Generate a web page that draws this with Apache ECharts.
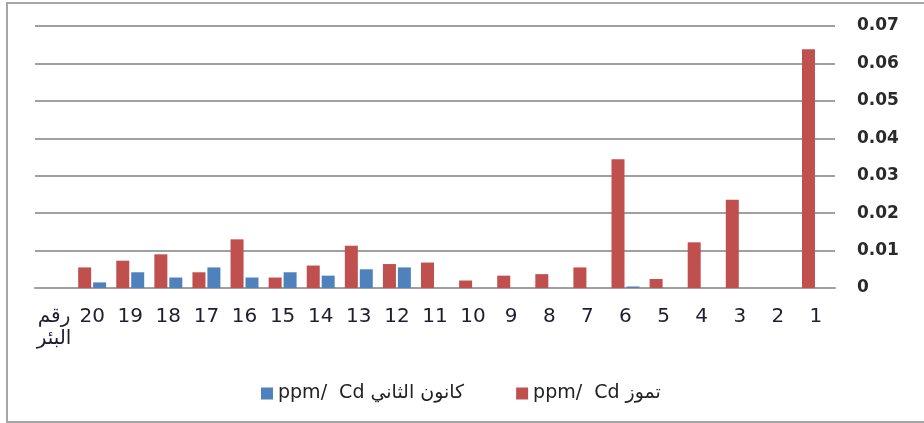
<!DOCTYPE html>
<html>
<head>
<meta charset="utf-8">
<script src="https://cdn.jsdelivr.net/npm/echarts@6/dist/echarts.min.js"></script>
<style>
html,body{margin:0;padding:0;background:#fff;overflow:hidden;width:924px;height:423px;}
#frame{position:absolute;left:6px;top:2px;width:960px;height:417px;border:2px solid #a6a6a6;}
#chart{position:absolute;left:0;top:0;width:924px;height:423px;}
</style>
</head>
<body>
<div id="frame"></div>
<div id="chart"></div>
<script>
const categories = ["رقم\nالبئر","20","19","18","17","16","15","14","13","12","11","10","9","8","7","6","5","4","3","2","1"];
const julyName = "ppm/  Cd تموز";
const janName = "ppm/  Cd كانون الثاني";
const julyValues = [null,0.0055,0.0073,0.009,0.0042,0.013,0.0028,0.006,0.0113,0.0064,0.0068,0.002,0.0033,0.0037,0.0055,0.0344,0.0024,0.0122,0.0236,null,0.0638];
const janValues = [null,0.0015,0.0042,0.0028,0.0055,0.0028,0.0042,0.0033,0.005,0.0055,null,null,null,null,null,0.0004,null,null,null,null,null];
const yTicks = [0,0.01,0.02,0.03,0.04,0.05,0.06,0.07];

const chart = echarts.init(document.getElementById('chart'));
chart.setOption({
  animation:false,
  backgroundColor:'transparent',
  grid:{left:35,right:89,top:26,bottom:135},
  legend:{
    data:[janName, julyName],
    left:256, top:379,
    icon:'rect', itemWidth:12, itemHeight:12, itemGap:52,
    textStyle:{fontFamily:'DejaVu Sans',fontSize:19,color:'#222'}
  },
  xAxis:{
    type:'category',
    data:categories,
    axisLine:{lineStyle:{color:'#a0a0a0',width:2}},
    axisTick:{show:false},
    axisLabel:{interval:0,fontFamily:'DejaVu Sans',fontSize:20,color:'#1e1e30',margin:18,lineHeight:22}
  },
  yAxis:{
    type:'value',
    position:'right',
    min:0,max:0.07,interval:0.01,
    axisLine:{show:false},
    axisTick:{show:false},
    splitLine:{lineStyle:{color:'#a0a0a0',width:2}},
    axisLabel:{margin:22,fontFamily:'DejaVu Sans',fontSize:17,fontWeight:'bold',color:'#2a2a2a',
      formatter:function(v){return yTicks.indexOf(Math.round(v*100)/100)>=0 ? String(Math.round(v*100)/100) : '';}}
  },
  series:[
    {name:julyName,type:'bar',data:julyValues,barWidth:13,barGap:'15%',itemStyle:{color:'#c0504d'}},
    {name:janName,type:'bar',data:janValues,barWidth:13,barGap:'15%',itemStyle:{color:'#4f81bd'}}
  ]
});
</script>
</body>
</html>
